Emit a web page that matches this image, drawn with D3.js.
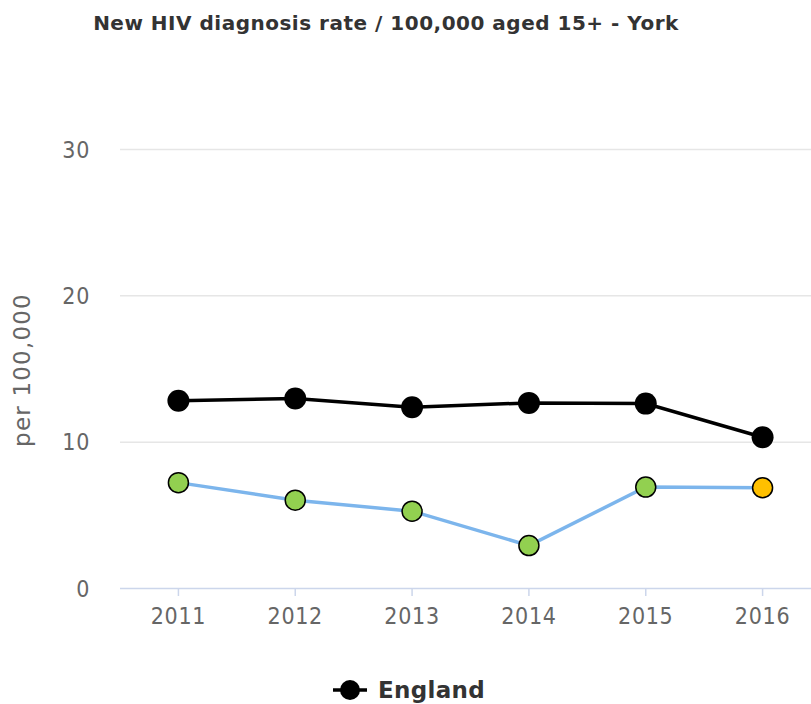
<!DOCTYPE html>
<html>
<head>
<meta charset="utf-8">
<script src="https://cdn.jsdelivr.net/npm/d3@7"></script>
<style>
  body { margin: 0; background: #fff; }
  svg { font-family: "DejaVu Sans", sans-serif; }
</style>
</head>
<body>
<svg id="chart" width="811" height="704"></svg>
<script>
// chart data
var years = ['2011', '2012', '2013', '2014', '2015', '2016'];
var england = [12.8, 12.95, 12.35, 12.65, 12.6, 10.3];
var york = [7.2, 6.0, 5.25, 2.9, 6.9, 6.85];
var yorkColours = ['#92d050', '#92d050', '#92d050', '#92d050', '#92d050', '#ffc000'];
var yTicks = [0, 10, 20, 30];

var svg = d3.select('#chart');

var x = d3.scaleBand().domain(years).range([120, 821]);
var y = d3.scaleLinear().domain([0, 30]).range([588, 149]);
var cx = function(d, i) { return x(years[i]) + x.bandwidth() / 2; };

// title
svg.append('text')
  .attr('x', 386).attr('y', 30)
  .attr('text-anchor', 'middle')
  .style('font-size', '20px')
  .style('font-weight', 'bold')
  .style('letter-spacing', '0.5px')
  .style('fill', '#333')
  .text('New HIV diagnosis rate / 100,000 aged 15+ - York');

// gridlines
svg.append('g')
  .selectAll('line')
  .data(yTicks.slice(1))
  .enter().append('line')
  .attr('x1', 120).attr('x2', 811)
  .attr('y1', function(d) { return y(d) + 0.5; })
  .attr('y2', function(d) { return y(d) + 0.5; })
  .attr('stroke', '#e6e6e6').attr('stroke-width', 1.5);

// y axis labels
var yAxis = svg.append('g')
  .attr('transform', 'translate(90,0)')
  .call(d3.axisLeft(y).tickValues(yTicks).tickSize(0).tickPadding(0));
yAxis.select('.domain').remove();
yAxis.selectAll('text')
  .attr('dy', '0.35em')
  .style('font-size', '23px')
  .style('letter-spacing', '0.7px')
  .style('font-family', '"DejaVu Sans Condensed", "DejaVu Sans", sans-serif')
  .style('fill', '#666');

// x axis
var xAxis = svg.append('g')
  .attr('transform', 'translate(0,588)')
  .call(d3.axisBottom(x).tickSize(8).tickPadding(12));
xAxis.select('.domain')
  .attr('d', 'M120,0.5H811')
  .attr('stroke', '#ccd6eb').attr('stroke-width', 1.5);
xAxis.selectAll('.tick line').attr('stroke', '#ccd6eb').attr('stroke-width', 1.5);
xAxis.selectAll('text')
  .style('font-size', '23px')
  .style('letter-spacing', '0.7px')
  .style('font-family', '"DejaVu Sans Condensed", "DejaVu Sans", sans-serif')
  .style('fill', '#666');

// y axis title
svg.append('text')
  .attr('transform', 'translate(30,370) rotate(-90)')
  .attr('text-anchor', 'middle')
  .style('font-size', '23px')
  .style('letter-spacing', '1.2px')
  .style('fill', '#666')
  .text('per 100,000');

var line = d3.line()
  .x(cx)
  .y(function(d) { return y(d); });

// york series
svg.append('path')
  .datum(york)
  .attr('d', line)
  .attr('fill', 'none')
  .attr('stroke', '#7cb5ec')
  .attr('stroke-width', 3.5);
svg.append('g').selectAll('circle')
  .data(york)
  .enter().append('circle')
  .attr('cx', cx)
  .attr('cy', function(d) { return y(d); })
  .attr('r', 10)
  .attr('fill', function(d, i) { return yorkColours[i]; })
  .attr('stroke', '#000').attr('stroke-width', 1.5);

// england series
svg.append('path')
  .datum(england)
  .attr('d', line)
  .attr('fill', 'none')
  .attr('stroke', '#000')
  .attr('stroke-width', 3.5);
svg.append('g').selectAll('circle')
  .data(england)
  .enter().append('circle')
  .attr('cx', cx)
  .attr('cy', function(d) { return y(d); })
  .attr('r', 11)
  .attr('fill', '#000');

// legend
var legend = svg.append('g').attr('transform', 'translate(333,690)');
legend.append('line')
  .attr('x1', 0).attr('x2', 34)
  .attr('stroke', '#000').attr('stroke-width', 3.5);
legend.append('circle')
  .attr('cx', 17).attr('r', 10).attr('fill', '#000');
legend.append('text')
  .attr('x', 45).attr('dy', '0.35em')
  .style('font-size', '23px')
  .style('font-weight', 'bold')
  .style('letter-spacing', '0.3px')
  .style('fill', '#333')
  .text('England');
</script>
</body>
</html>
